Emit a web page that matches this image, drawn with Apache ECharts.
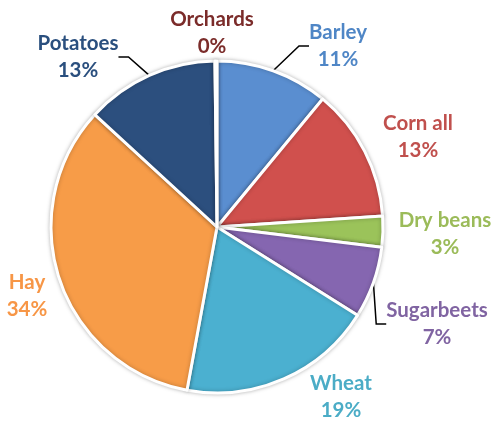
<!DOCTYPE html>
<html><head><meta charset="utf-8">
<script src="https://cdn.jsdelivr.net/npm/echarts@6/dist/echarts.min.js"></script>
<style>html,body{margin:0;padding:0;background:#fff}#c{width:499px;height:421px}</style>
</head><body><div id="c"></div>
<script>
const categories = ['Barley','Corn all','Dry beans','Sugarbeets','Wheat','Hay','Potatoes','Orchards'];
const values = [11, 13, 3, 7, 19, 34, 13, 0.2];
const sliceColors = ['#5a8ed0','#d0504d','#9bc35a','#8566b0','#4bb0d0','#f79c48','#2c4f7e','#7b2c2a'];
const labelColors = ['#4f86c6','#c0504d','#9bbb59','#8064a2','#4bacc6','#f79646','#2a4f7e','#7b2c2a'];
const labelPos = [[338,46],[418,137],[445,234],[437,324],[341,397],[27,296],[78,57],[212,33]];
const showLine = [true,false,false,true,false,false,true,false];

const total = values.reduce((a,b)=>a+b,0);
const chart = echarts.init(document.getElementById('c'));
chart.setOption({
  animation:false,
  series:[{
    type:'pie',
    center:[217,227],
    radius:[0,166],
    startAngle:90,
    clockwise:true,
    avoidLabelOverlap:false,
    itemStyle:{borderColor:'#fff',borderWidth:3,shadowBlur:4,shadowColor:'rgba(0,0,0,0.25)'},
    label:{
      show:true,position:'outside',
      fontFamily:'Lato',fontWeight:'bold',fontSize:20.5,lineHeight:27,align:'center',
      formatter:p=>p.name+'\n'+Math.round(p.value/total*100)+'%'
    },
    labelLine:{show:true,lineStyle:{color:'#000',width:1.5},length:10,length2:10},
    labelLayout:function(params){
      const i=params.dataIndex;
      return {x:labelPos[i][0],y:labelPos[i][1],align:'center',verticalAlign:'middle'};
    },
    data:categories.map((c,i)=>({
      name:c,value:values[i],
      itemStyle:{color:sliceColors[i]},
      label:{color:labelColors[i]},
      labelLine:{show:showLine[i]}
    }))
  }]
});
</script></body></html>
